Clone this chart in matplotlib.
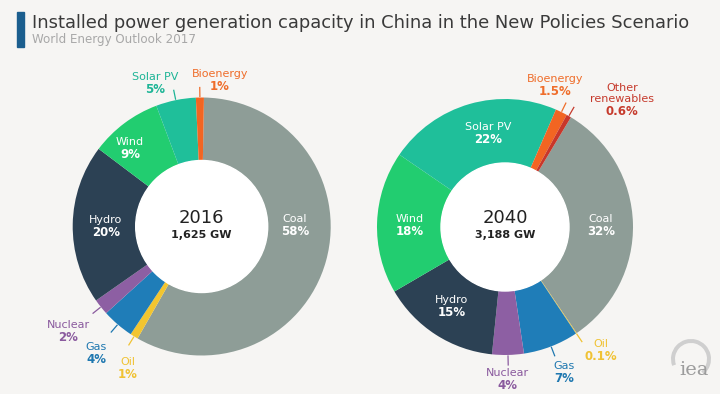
import matplotlib.pyplot as plt
from matplotlib.patches import Circle, Wedge, Rectangle
import numpy as np

# --- Data ---
sources_2016 = ["Coal", "Oil", "Gas", "Nuclear", "Hydro", "Wind", "Solar PV", "Bioenergy"]
shares_2016 = [58, 1, 4, 2, 20, 9, 5, 1]
labels_2016 = ["58%", "1%", "4%", "2%", "20%", "9%", "5%", "1%"]

sources_2040 = ["Coal", "Oil", "Gas", "Nuclear", "Hydro", "Wind", "Solar PV", "Bioenergy", "Other\nrenewables"]
shares_2040 = [32, 0.1, 7, 4, 15, 18, 22, 1.5, 0.6]
labels_2040 = ["32%", "0.1%", "7%", "4%", "15%", "18%", "22%", "1.5%", "0.6%"]

totals = ["1,625 GW", "3,188 GW"]
years = ["2016", "2040"]

colors = {
    "Coal": "#8e9d97",
    "Oil": "#f2c530",
    "Gas": "#1f7db8",
    "Nuclear": "#8d5fa3",
    "Hydro": "#2c4154",
    "Wind": "#22cd70",
    "Solar PV": "#1fbf9a",
    "Bioenergy": "#f26522",
    "Other\nrenewables": "#c8372a",
}
text_colors = {
    "Oil": "#f0c233",
    "Gas": "#1f78b0",
    "Nuclear": "#8a5a9e",
    "Solar PV": "#1db596",
    "Bioenergy": "#ef6d2a",
    "Other\nrenewables": "#c63a2c",
}

H = 394
bg = "#f6f5f3"

fig = plt.figure(figsize=(7.2, 3.94), dpi=100, facecolor=bg)
ax = fig.add_axes([0, 0, 1, 1])

# header
ax.add_patch(Rectangle((17, H - 47), 7, 35, color="#1b5e8e"))
ax.text(32, H - 28, "Installed power generation capacity in China in the New Policies Scenario",
        fontsize=12.9, color="#3a3a3a", va="baseline", ha="left")
ax.text(32, H - 43, "World Energy Outlook 2017", fontsize=8.6, color="#a8a8a8",
        va="baseline", ha="left")


def donut(cx, cy, r, rin, shares, sources, labels, start, year, total, label_pos, outside):
    cols = [colors[s] for s in sources]
    wedges, _ = ax.pie(shares, colors=cols, startangle=start, counterclock=False,
                       radius=r, center=(cx, cy), frame=True,
                       wedgeprops=dict(width=r - rin, linewidth=0))
    ax.add_patch(Circle((cx, cy), rin, color="white", zorder=3))
    ax.text(cx, cy + 9, year, fontsize=13, ha="center", va="center", color="#222222", zorder=4)
    ax.text(cx, cy - 8, total, fontsize=8.0, ha="center", va="center", color="#222222",
            fontweight="bold", zorder=4)
    for w, src, lab in zip(wedges, sources, labels):
        x, y = label_pos[src]
        if src in outside:
            c = text_colors[src]
            mid = np.deg2rad((w.theta1 + w.theta2) / 2)
            ax.plot([cx + (r + 1) * np.cos(mid), cx + (r + 10) * np.cos(mid)],
                    [cy + (r + 1) * np.sin(mid), cy + (r + 10) * np.sin(mid)],
                    color=c, lw=0.9, zorder=4)
        else:
            c = "white"
        ax.text(x, H - y, src, fontsize=8, color=c, ha="center", va="bottom", zorder=5,
                linespacing=1.1)
        ax.text(x, H - y - 1, lab, fontsize=8.5, color=c, ha="center", va="top",
                fontweight="bold", zorder=5)


pos_2016 = {
    "Coal": (295, 224), "Oil": (128, 367), "Gas": (96, 352), "Nuclear": (68, 330),
    "Hydro": (106, 225), "Wind": (130, 147), "Solar PV": (155, 82), "Bioenergy": (220, 79),
}
pos_2040 = {
    "Coal": (601, 224), "Oil": (601, 349), "Gas": (564, 371), "Nuclear": (507, 378),
    "Hydro": (452, 305), "Wind": (410, 224), "Solar PV": (488, 132), "Bioenergy": (555, 84),
    "Other\nrenewables": (622, 104),
}

donut(201.7, H - 226.5, 129, 66, shares_2016, sources_2016, labels_2016, 89, years[0], totals[0],
      pos_2016, ["Oil", "Gas", "Nuclear", "Solar PV", "Bioenergy"])
donut(505, H - 227, 128, 64, shares_2040, sources_2040, labels_2040, 59, years[1], totals[1],
      pos_2040, ["Oil", "Gas", "Nuclear", "Bioenergy", "Other\nrenewables"])

ax.set_xlim(0, 720)
ax.set_ylim(0, H)
ax.set_aspect("equal")
ax.axis("off")

# iea logo
ax.add_patch(Wedge((691, H - 359), 20, -50, 200, width=4, color="#cfcfcf", lw=0))
ax.text(694, H - 370, "iea", fontsize=14, family="DejaVu Serif", color="#9c9c9c",
        ha="center", va="center", zorder=5)

fig.savefig("out.png", dpi=100, facecolor=bg)
